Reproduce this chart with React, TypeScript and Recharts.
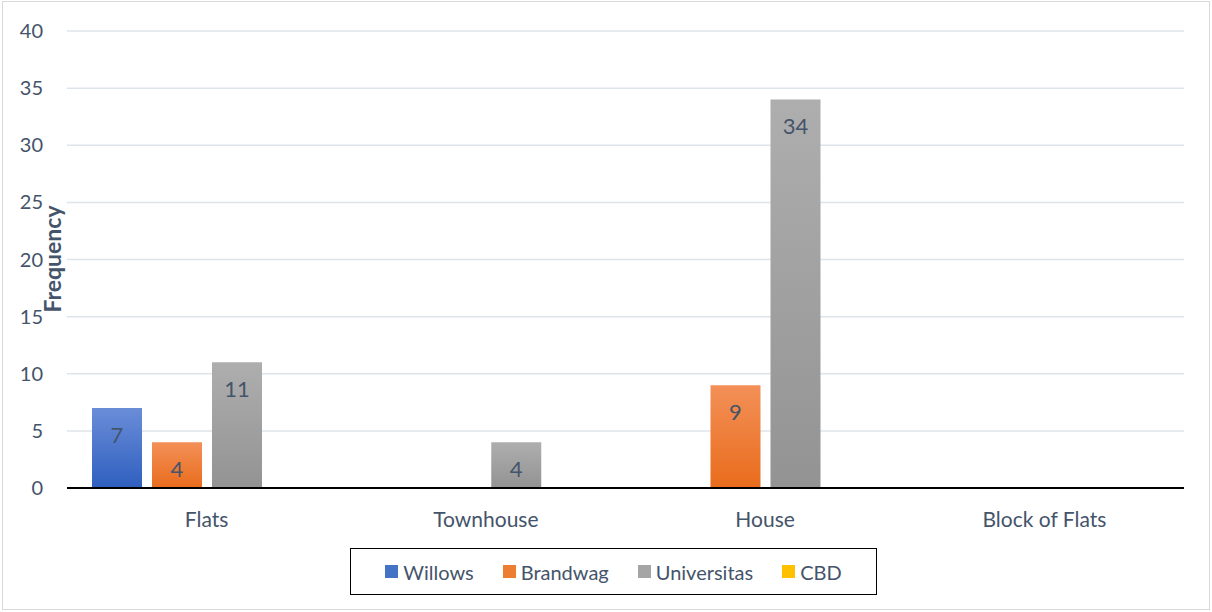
import React from 'react';
import { BarChart, Bar, XAxis, YAxis, CartesianGrid, LabelList, Legend } from 'recharts';

const categories = ['Flats', 'Townhouse', 'House', 'Block of Flats'];
const willows = [7, 0, 0, 0];
const brandwag = [4, 0, 9, 0];
const universitas = [11, 4, 34, 0];
const cbd = [0, 0, 0, 0];
const yTicks = [0, 5, 10, 15, 20, 25, 30, 35, 40];

const seriesNames = ['Willows', 'Brandwag', 'Universitas', 'CBD'];
const seriesKeys = ['willows', 'brandwag', 'universitas', 'cbd'];
const legendColors = ['#4472C4', '#ED7D31', '#A5A5A5', '#FFC000'];

const data = categories.map((c, i) => ({
  name: c,
  willows: willows[i],
  brandwag: brandwag[i],
  universitas: universitas[i],
  cbd: cbd[i],
}));

const FONT = 'Lato, "Open Sans", sans-serif';
const TEXT = '#44546A';

const hideZero = (v: any) => (v === 0 || v == null ? '' : v);

const LegendBox = () => (
  <div
    style={{
      position: 'absolute',
      left: 350,
      top: 548,
      width: 527,
      height: 47,
      border: '1.5px solid #000',
      display: 'flex',
      alignItems: 'center',
      justifyContent: 'center',
      gap: 29,
      fontFamily: FONT,
      fontSize: 20,
      color: TEXT,
      boxSizing: 'border-box',
    }}
  >
    {seriesNames.map((n, i) => (
      <div key={n} style={{ display: 'flex', alignItems: 'center' }}>
        <span style={{ display: 'inline-block', width: 13, height: 13, background: legendColors[i], marginRight: 5 }} />
        <span>{n}</span>
      </div>
    ))}
  </div>
);

export default function App() {
  return (
    <div style={{ position: 'absolute', left: 0, top: 0, width: 1212, height: 612, background: '#fff' }}>
      <div
        style={{
          position: 'absolute',
          left: 2,
          top: 1,
          width: 1208,
          height: 609,
          border: '1.5px solid #D9D9D9',
          boxSizing: 'border-box',
        }}
      />
      <BarChart
        width={1212}
        height={612}
        data={data}
        margin={{ top: 31, right: 28, bottom: 74, left: 0 }}
        barCategoryGap={25}
        barGap={10}
        style={{ fontFamily: FONT }}
      >
        <defs>
          <linearGradient id="gBlue" x1="0" y1="0" x2="0" y2="1">
            <stop offset="0%" stopColor="#6A8DD8" />
            <stop offset="100%" stopColor="#2F5FBF" />
          </linearGradient>
          <linearGradient id="gOrange" x1="0" y1="0" x2="0" y2="1">
            <stop offset="0%" stopColor="#F39058" />
            <stop offset="100%" stopColor="#E96C1C" />
          </linearGradient>
          <linearGradient id="gGray" x1="0" y1="0" x2="0" y2="1">
            <stop offset="0%" stopColor="#AEAEAE" />
            <stop offset="100%" stopColor="#939393" />
          </linearGradient>
          <linearGradient id="gYellow" x1="0" y1="0" x2="0" y2="1">
            <stop offset="0%" stopColor="#FFC926" />
            <stop offset="100%" stopColor="#F0B400" />
          </linearGradient>
        </defs>
        <CartesianGrid vertical={false} stroke="#DEE4EB" strokeWidth={1.5} />
        <XAxis
          dataKey="name"
          axisLine={{ stroke: '#000', strokeWidth: 2 }}
          tickLine={false}
          tickSize={0}
          tickMargin={24}
          height={50}
          tick={{ fill: TEXT, fontSize: 21, fontFamily: FONT }}
        />
        <YAxis
          domain={[0, 40]}
          ticks={yTicks}
          interval={0}
          axisLine={false}
          tickLine={false}
          tickSize={0}
          tickMargin={24}
          width={67}
          tick={{ fill: TEXT, fontSize: 20, fontFamily: FONT }}
          label={{
            content: () => (
              <text
                x={0}
                y={0}
                transform="translate(61,259) rotate(-90)"
                textAnchor="middle"
                fill={TEXT}
                fontSize={23}
                fontWeight="bold"
                fontFamily={FONT}
              >
                Frequency
              </text>
            ),
          }}
        />
        {seriesKeys.map((k, i) => (
          <Bar
            key={k}
            dataKey={k}
            name={seriesNames[i]}
            fill={['url(#gBlue)', 'url(#gOrange)', 'url(#gGray)', 'url(#gYellow)'][i]}
            isAnimationActive={false}
          >
            <LabelList
              dataKey={k}
              position="insideTop"
              offset={19}
              formatter={hideZero}
              fill={TEXT}
              fontSize={22}
              fontFamily={FONT}
            />
          </Bar>
        ))}
        <Legend content={() => null} />
      </BarChart>
      <LegendBox />
    </div>
  );
}
